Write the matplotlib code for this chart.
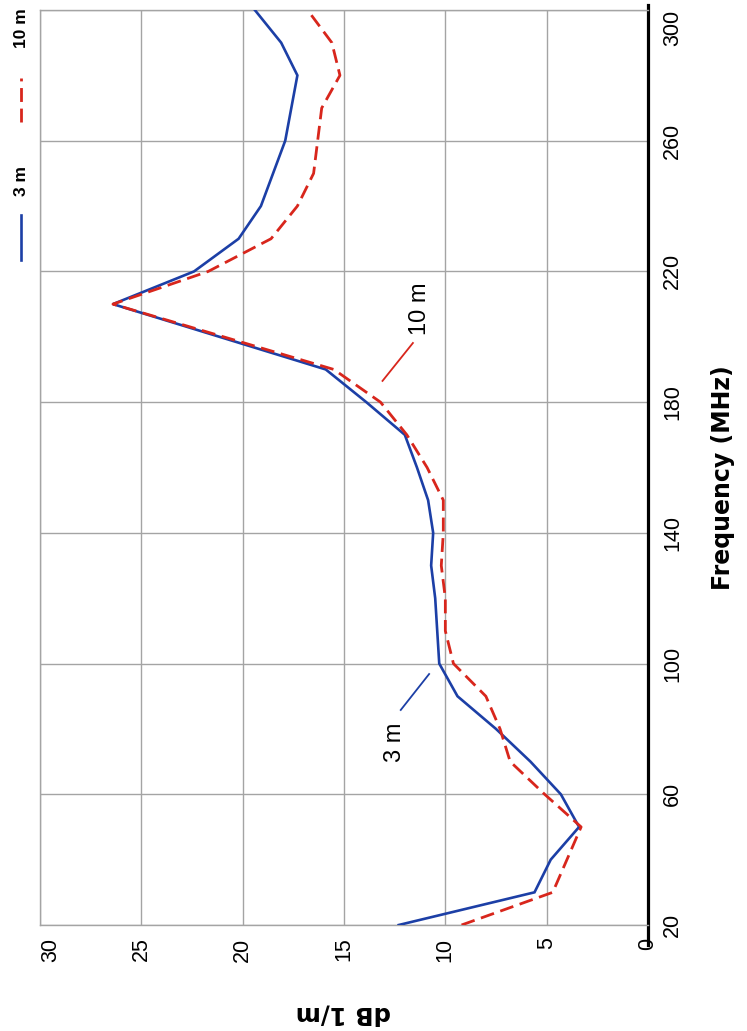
import numpy as np
import matplotlib
matplotlib.use("Agg")
import matplotlib.pyplot as plt
from matplotlib.lines import Line2D

# antenna factor vs frequency
freq_mhz = [20, 30, 40, 50, 60, 70, 80, 90, 100, 110, 120, 130, 140, 150,
            160, 170, 180, 190, 210, 220, 230, 240, 250, 260, 270, 280, 290, 300]
af_3m = [12.3, 5.6, 4.8, 3.4, 4.3, 5.8, 7.5, 9.4, 10.3, 10.4, 10.5, 10.7, 10.6, 10.85,
         11.4, 12.0, 13.9, 15.9, 26.4, 22.4, 20.2, 19.1, 18.5, 17.9, 17.6, 17.3, 18.1, 19.4]
af_10m = [9.2, 4.7, 4.0, 3.3, 5.1, 6.8, 7.3, 8.0, 9.6, 10.0, 10.0, 10.2, 10.1, 10.1,
          10.9, 11.9, 13.2, 15.5, 26.4, 21.7, 18.6, 17.3, 16.5, 16.3, 16.1, 15.2, 15.6, 16.8]

freq_ticks = [20, 60, 100, 140, 180, 220, 260, 300]
db_ticks = [0, 5, 10, 15, 20, 25, 30]

blue = "#1c3fa6"
red = "#d8261c"
grid_col = "#a4a4a4"
font = "Liberation Sans"

fig = plt.figure(figsize=(7.47, 10.31), dpi=100)
ax = fig.add_axes([40 / 747, 1 - 925 / 1031, 608 / 747, 915 / 1031])

# chart is drawn turned a quarter turn: frequency runs up, dB runs to the left
ax.plot(af_3m, freq_mhz, color=blue, lw=1.9, solid_joinstyle="miter", zorder=3)
ax.plot(af_10m, freq_mhz, color=red, lw=2.0, dashes=(5, 2.4), zorder=4)

ax.set_xlim(30, 0)
ax.set_ylim(20, 300)
ax.set_xticks(db_ticks)
ax.set_yticks(freq_ticks)
ax.grid(True, color=grid_col, lw=1.0)
ax.set_axisbelow(True)

ax.yaxis.tick_right()
ax.tick_params(axis="both", length=0, labelsize=15.5)
ax.tick_params(axis="x", pad=9)
ax.tick_params(axis="y", pad=10)
for lab in ax.get_xticklabels() + ax.get_yticklabels():
    lab.set_rotation(90)
    lab.set_fontfamily(font)
for lab in ax.get_yticklabels():
    lab.set_verticalalignment("center")
# keep the end labels inside the picture
ax.get_yticklabels()[-1].set_verticalalignment("top")
ax.get_xticklabels()[-1].set_horizontalalignment("left")

for side in ["top", "left", "bottom"]:
    ax.spines[side].set_color(grid_col)
    ax.spines[side].set_linewidth(1.0)
ax.spines["right"].set_color("black")
ax.spines["right"].set_linewidth(2.3)
ax.spines["right"].set_bounds(14, 301.5)

# callouts
ax.text(11.25, 208.6, "10 m", rotation=90, ha="center", va="center",
        fontsize=17, family=font)
ax.plot([11.6, 13.1], [198.1, 186.5], color=red, lw=1.3)
ax.text(12.5, 76, "3 m", rotation=90, ha="center", va="center",
        fontsize=17, family=font)
ax.plot([10.8, 12.2], [96.8, 85.8], color=blue, lw=1.3)

# axis titles
fig.text(723 / 747, 1 - 478 / 1031, "Frequency (MHz)", rotation=90,
         ha="center", va="center", fontsize=17, fontweight="bold", family="DejaVu Sans")
fig.text(343 / 747, 1 - 1013 / 1031, "dB 1/m", rotation=180,
         ha="center", va="center", fontsize=17.5, fontweight="bold", family="DejaVu Sans")

# legend, stacked along the left edge
lx = 21 / 747
fig.add_artist(Line2D([lx, lx], [1 - 260 / 1031, 1 - 215 / 1031], color=blue, lw=1.9,
                      transform=fig.transFigure))
fig.text(lx, 1 - 181 / 1031, "3 m", rotation=90, ha="center", va="center",
         fontsize=12.5, fontweight="bold", family=["Liberation Sans Narrow", font])
fig.add_artist(Line2D([lx, lx], [1 - 122 / 1031, 1 - 78 / 1031], color=red, lw=2.0,
                      dashes=(5, 2.4), transform=fig.transFigure))
fig.text(lx, 1 - 28 / 1031, "10 m", rotation=90, ha="center", va="center",
         fontsize=12.5, fontweight="bold", family=["Liberation Sans Narrow", font])

fig.savefig("out.png", dpi=100)
